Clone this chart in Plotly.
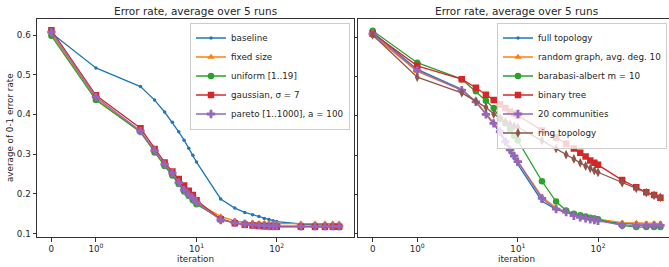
import math
import plotly.graph_objects as go

# ---------------- data ----------------
iterations = [0, 1, 2, 3, 4, 5, 6, 7, 8, 9, 10, 20, 30, 40, 50, 60, 70, 80, 90, 100, 200, 300, 400, 500, 600]

left_names = ["baseline", "fixed size", "uniform [1..19]", "gaussian, σ = 7", "pareto [1..1000], a = 100"]
baseline = [0.605, 0.517, 0.470, 0.436, 0.406, 0.380, 0.356, 0.335, 0.315, 0.297, 0.280, 0.187, 0.164, 0.153, 0.147, 0.143, 0.138, 0.135, 0.132, 0.130, 0.124, 0.122, 0.121, 0.121, 0.120]
fixed_size = [0.603, 0.440, 0.355, 0.306, 0.272, 0.249, 0.228, 0.210, 0.198, 0.188, 0.177, 0.143, 0.132, 0.128, 0.127, 0.126, 0.126, 0.126, 0.125, 0.125, 0.125, 0.125, 0.125, 0.125, 0.125]
uniform = [0.598, 0.436, 0.356, 0.304, 0.270, 0.246, 0.225, 0.206, 0.195, 0.184, 0.174, 0.137, 0.127, 0.123, 0.121, 0.120, 0.119, 0.119, 0.118, 0.118, 0.118, 0.118, 0.117, 0.117, 0.117]
gaussian = [0.612, 0.448, 0.365, 0.313, 0.279, 0.256, 0.237, 0.221, 0.208, 0.197, 0.184, 0.136, 0.126, 0.122, 0.120, 0.119, 0.118, 0.118, 0.117, 0.117, 0.117, 0.117, 0.117, 0.117, 0.117]
pareto = [0.607, 0.444, 0.358, 0.309, 0.274, 0.252, 0.228, 0.210, 0.198, 0.189, 0.178, 0.134, 0.127, 0.124, 0.122, 0.121, 0.120, 0.119, 0.119, 0.119, 0.118, 0.118, 0.118, 0.118, 0.118]

right_names = ["full topology", "random graph, avg. deg. 10", "barabasi-albert m = 10", "binary tree", "20 communities", "ring topology"]
full_topology = [0.614, 0.519, 0.468, 0.436, 0.405, 0.380, 0.356, 0.332, 0.308, 0.292, 0.276, 0.182, 0.161, 0.153, 0.147, 0.143, 0.140, 0.137, 0.135, 0.133, 0.125, 0.124, 0.123, 0.123, 0.123]
random_graph = [0.606, 0.514, 0.466, 0.437, 0.406, 0.383, 0.360, 0.337, 0.315, 0.298, 0.284, 0.193, 0.165, 0.156, 0.150, 0.146, 0.142, 0.140, 0.138, 0.136, 0.127, 0.126, 0.125, 0.125, 0.125]
barabasi = [0.618, 0.536, 0.494, 0.463, 0.439, 0.420, 0.393, 0.381, 0.366, 0.349, 0.337, 0.233, 0.181, 0.158, 0.150, 0.146, 0.143, 0.140, 0.138, 0.136, 0.120, 0.116, 0.116, 0.116, 0.116]
binary_tree = [0.611, 0.528, 0.494, 0.472, 0.454, 0.441, 0.429, 0.420, 0.411, 0.406, 0.401, 0.363, 0.345, 0.329, 0.317, 0.306, 0.296, 0.286, 0.280, 0.275, 0.236, 0.218, 0.205, 0.198, 0.191]
communities = [0.610, 0.516, 0.466, 0.436, 0.404, 0.381, 0.360, 0.334, 0.313, 0.298, 0.283, 0.189, 0.162, 0.154, 0.145, 0.141, 0.138, 0.136, 0.134, 0.132, 0.121, 0.120, 0.120, 0.120, 0.120]
ring = [0.607, 0.499, 0.459, 0.438, 0.422, 0.405, 0.394, 0.385, 0.379, 0.374, 0.371, 0.337, 0.317, 0.301, 0.290, 0.280, 0.272, 0.266, 0.260, 0.256, 0.229, 0.215, 0.204, 0.197, 0.192]
ring_err = [0.008, 0.008, 0.008, 0.008, 0.008, 0.008, 0.008, 0.008, 0.008, 0.008, 0.008, 0.008, 0.008, 0.008, 0.008, 0.008, 0.008, 0.008, 0.008, 0.008, 0.008, 0.008, 0.008, 0.008, 0.008]

x_tick_values = [0, 1, 10, 100]
x_tick_labels = ["0", "10<sup>0</sup>", "10<sup>1</sup>", "10<sup>2</sup>"]
y_tick_values = [0.1, 0.2, 0.3, 0.4, 0.5, 0.6]
y_tick_labels = ["0.1", "0.2", "0.3", "0.4", "0.5", "0.6"]

# ---------------- symlog scale (linthresh = 2, linscale = 1) ----------------
LINTHRESH = 2.0
LINSCALE_ADJ = 1.0 / (1.0 - 1.0 / 10.0)


def symlog(v):
    a = abs(v)
    if a <= LINTHRESH:
        return v / LINTHRESH * LINSCALE_ADJ
    return math.copysign(LINSCALE_ADJ + math.log10(a / LINTHRESH), v)


xs = [symlog(v) for v in iterations]
xt = [symlog(v) for v in x_tick_values]

colors = ["#1f77b4", "#ff7f0e", "#2ca02c", "#d62728", "#9467bd", "#8c564b"]
FONT = "DejaVu Sans"
TXT = "#262626"

fig = go.Figure()

left_series = [baseline, fixed_size, uniform, gaussian, pareto]
left_symbols = ["circle", "triangle-up", "circle", "square", "cross"]
left_sizes = [3.5, 6.5, 6.5, 6.5, 7]
for i, (name, ys) in enumerate(zip(left_names, left_series)):
    fig.add_trace(go.Scatter(
        x=xs, y=ys, name=name, mode="lines+markers",
        line=dict(color=colors[i], width=1.3),
        marker=dict(symbol=left_symbols[i], size=left_sizes[i], color=colors[i], line=dict(width=0)),
        xaxis="x", yaxis="y", legend="legend",
    ))

right_series = [full_topology, random_graph, barabasi, binary_tree, communities, ring]
right_symbols = ["circle", "triangle-up", "circle", "square", "cross", "diamond-tall"]
right_sizes = [3.5, 6.5, 6.5, 6.5, 7, 7]
for i, (name, ys) in enumerate(zip(right_names, right_series)):
    kw = {}
    if name == "ring topology":
        kw["error_y"] = dict(type="data", array=ring_err, color=colors[i], thickness=1.2, width=0)
    fig.add_trace(go.Scatter(
        x=xs, y=ys, name=name, mode="lines+markers",
        line=dict(color=colors[i], width=1.3),
        marker=dict(symbol=right_symbols[i], size=right_sizes[i], color=colors[i], line=dict(width=0)),
        xaxis="x2", yaxis="y2", legend="legend2", **kw,
    ))

W, H = 669, 267
ML, MT, MB = 37, 19, 30
PW = W - ML
PH = H - MT - MB

left_end = (353.5 - ML) / PW
right_start = (358.3 - ML) / PW
x_lo = -0.1794
px_per_unit = (353.5 - ML) / (3.7674 - x_lo)
x2_hi = x_lo + (W - 358.3) / px_per_unit


def py(pix):
    """paper y for a pixel row measured from the top of the figure"""
    return (H - MB - pix) / PH


def px(pix):
    """paper x for a pixel column measured from the left of the figure"""
    return (pix - ML) / PW


axis_common = dict(
    showgrid=False, zeroline=False, showline=True, linecolor="#333333", linewidth=1,
    ticks="outside", ticklen=3.5, tickwidth=1, tickcolor="#333333", automargin=False,
    tickfont=dict(family=FONT, size=8.75, color=TXT),
)

title_font = dict(family=FONT, size=10.5, color=TXT)
label_font = dict(family=FONT, size=8.75, color=TXT)

fig.update_layout(
    width=W, height=H,
    margin=dict(l=ML, r=0, t=MT, b=MB, pad=0, autoexpand=False),
    paper_bgcolor="white", plot_bgcolor="white",
    font=dict(family=FONT, size=8.75, color=TXT),
    xaxis=dict(domain=[0, left_end], range=[x_lo, 3.7674], tickmode="array",
               tickvals=xt, ticktext=x_tick_labels, mirror=True, anchor="y", **axis_common),
    yaxis=dict(domain=[0, 1], range=[0.0912, 0.6403], tickmode="array",
               tickvals=y_tick_values, ticktext=y_tick_labels, mirror=True, anchor="x", **axis_common),
    xaxis2=dict(domain=[right_start, 1], range=[x_lo, x2_hi], tickmode="array",
                tickvals=xt, ticktext=x_tick_labels, mirror=True, anchor="y2", **axis_common),
    yaxis2=dict(domain=[0, 1], range=[0.0905, 0.6478], tickmode="array",
                tickvals=y_tick_values, showticklabels=False, mirror=False, anchor="x2", **axis_common),
    legend=dict(x=px(190), y=py(22.5), xanchor="left", yanchor="top",
                bgcolor="rgba(255,255,255,0.8)", bordercolor="#cccccc", borderwidth=1,
                font=label_font, tracegroupgap=0),
    legend2=dict(x=px(497), y=py(22.5), xanchor="left", yanchor="top",
                 bgcolor="rgba(255,255,255,0.8)", bordercolor="#cccccc", borderwidth=1,
                 font=label_font, tracegroupgap=0),
    annotations=[
        dict(text="Error rate, average over 5 runs", xref="paper", yref="paper",
             x=left_end / 2, y=py(11.5), xanchor="center", yanchor="middle", showarrow=False,
             font=title_font),
        dict(text="Error rate, average over 5 runs", xref="paper", yref="paper",
             x=px(358.3 + 316.5 / 2), y=py(11.5), xanchor="center",
             yanchor="middle", showarrow=False, font=title_font),
        dict(text="iteration", xref="paper", yref="paper",
             x=left_end / 2, y=py(258.5), xanchor="center", yanchor="middle", showarrow=False,
             font=label_font),
        dict(text="iteration", xref="paper", yref="paper",
             x=px(358.3 + 316.5 / 2), y=py(258.5), xanchor="center", yanchor="middle",
             showarrow=False, font=label_font),
        dict(text="average of 0-1 error rate", xref="paper", yref="paper",
             x=px(10), y=0.5, xanchor="center", yanchor="middle", showarrow=False,
             textangle=-90, font=label_font),
    ],
)

fig.write_html(
    "out.html",
    config={"displayModeBar": False},
    post_script="document.body.style.margin='0px';document.body.style.padding='0px';"
                "document.documentElement.style.overflow='hidden';",
)
